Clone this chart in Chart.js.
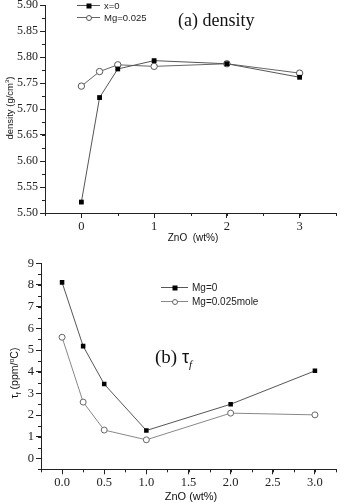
<!DOCTYPE html>
<html><head><meta charset="utf-8">
<script src="https://cdn.jsdelivr.net/npm/chart.js@4/dist/chart.umd.min.js"></script>
<style>
html,body{margin:0;padding:0;background:#fff;}
body{width:341px;height:503px;position:relative;overflow:hidden;}
canvas{position:absolute;left:0;}
.t{position:absolute;white-space:nowrap;color:#111;line-height:1;}
.sans{font-family:"Liberation Sans",Arial,sans-serif;}
.serif{font-family:"Liberation Serif","Times New Roman",serif;}
.rot{transform:translate(-50%,-50%) rotate(-90deg);}
.ctr{transform:translate(-50%,-50%);}
.leg{position:absolute;display:flex;align-items:center;font-family:"Liberation Sans",Arial,sans-serif;color:#222;}
.lline{position:relative;height:1px;margin-right:4px;}
.lmark{position:absolute;left:50%;top:50%;transform:translate(-50%,-50%);box-sizing:border-box;}
</style></head>
<body>
<canvas id="c1" width="341" height="250" style="top:0"></canvas>
<canvas id="c2" width="341" height="253" style="top:250px"></canvas>

<div class="t serif" style="left:178px;top:11px;font-size:18px;">(a) density</div>
<div class="t sans ctr" style="left:193px;top:238px;font-size:10px;">ZnO&nbsp;&nbsp;(wt%)</div>
<div class="t sans rot" style="left:9px;top:108px;font-size:9.5px;">density (g/cm<sup style="font-size:6px">3</sup>)</div>

<div class="t serif" style="left:155px;top:347px;font-size:19px;">(b) <span class="sans" style="font-size:18px">τ</span><sub style="font-size:11px;font-style:italic">f</sub></div>
<div class="t sans ctr" style="left:191px;top:496px;font-size:11px;">ZnO (wt%)</div>
<div class="t sans rot" style="left:15px;top:373px;font-size:10.5px;">τ<sub style="font-size:7px">f</sub> (ppm/<sup style="font-size:7px">o</sup>C)</div>

<div id="leg1"></div>
<div id="leg2"></div>

<script>
// ---- data ----
const densX0 = [0, 0.25, 0.5, 1, 2, 3];
const densZnO = [5.521, 5.722, 5.777, 5.793, 5.787, 5.761];
const densMg = [5.744, 5.772, 5.785, 5.782, 5.787, 5.769];
const densLabels = ['x=0', 'Mg=0.025'];

const tauX = [0, 0.25, 0.5, 1, 2, 3];
const tauMg0 = [8.12, 5.18, 3.43, 1.29, 2.50, 4.04];
const tauMg025 = [5.59, 2.60, 1.31, 0.86, 2.09, 2.01];
const tauLabels = ['Mg=0', 'Mg=0.025mole'];

const xTicksTop = [0, 1, 2, 3];
const xTicksBot = [0, 0.5, 1, 1.5, 2, 2.5, 3];
const densYTicks = [5.50,5.55,5.60,5.65,5.70,5.75,5.80,5.85,5.90];
const tauYTicks = [0,1,2,3,4,5,6,7,8,9];

function pts(xs, ys){ return xs.map((x,i)=>({x:x, y:ys[i]})); }

const SERIF = 'Liberation Serif, Times New Roman, serif';

const minorTicks = {
  id:'minorTicks',
  afterDraw(chart){
    const ctx = chart.ctx;
    ctx.save();
    ctx.strokeStyle = '#222';
    ctx.lineWidth = 1;
    for (const id of ['x','y']){
      const s = chart.scales[id];
      const m = s.options.minorStep;
      if (!m) continue;
      const n = Math.round((s.max - s.min)/m);
      for (let i=0;i<=n;i++){
        const v = s.min + i*m;
        const p = Math.round(s.getPixelForValue(v)) + 0.5;
        ctx.beginPath();
        if (id==='x'){ ctx.moveTo(p, chart.chartArea.bottom); ctx.lineTo(p, chart.chartArea.bottom+3); }
        else { ctx.moveTo(chart.chartArea.left, p); ctx.lineTo(chart.chartArea.left-3, p); }
        ctx.stroke();
      }
    }
    ctx.restore();
  }
};

function fixScale(w, h){
  return function(scale){
    if (w!=null) scale.width = w;
    if (h!=null) scale.height = h;
    scale.paddingLeft = 0; scale.paddingRight = 0; scale.paddingTop = 0; scale.paddingBottom = 0;
  };
}

function makeChart(id, datasets, o){
  return new Chart(document.getElementById(id), {
    type:'line',
    data:{datasets:datasets},
    plugins:[minorTicks],
    options:{
      responsive:false, animation:false,
      layout:{padding:{top:o.top, right:0, left:0, bottom:0}},
      plugins:{legend:{display:false}, tooltip:{enabled:false}},
      scales:{
        x:{type:'linear', min:o.xmin, max:o.xmax, minorStep:o.xminor,
           afterBuildTicks:(s)=>{ s.ticks = o.xticks.map(v=>({value:v})); },
           afterFit:fixScale(null, o.xh),
           border:{display:true, color:'#222', width:1},
           grid:{display:true, drawOnChartArea:false, drawTicks:true, tickLength:5, tickColor:'#222'},
           ticks:{font:{family:SERIF, size:o.xfs}, color:'#222', padding:1, maxRotation:0, autoSkip:false,
                  callback:(v)=>o.xfmt(v)}},
        y:{type:'linear', min:o.ymin, max:o.ymax, minorStep:o.yminor,
           afterBuildTicks:(s)=>{ s.ticks = o.yticks.map(v=>({value:v})); },
           afterFit:fixScale(o.yw, null),
           border:{display:true, color:'#222', width:1},
           grid:{display:true, drawOnChartArea:false, drawTicks:true, tickLength:5, tickColor:'#222'},
           ticks:{font:{family:SERIF, size:o.yfs}, color:'#222', padding:2, autoSkip:false,
                  callback:(v)=>o.yfmt(v)}}
      }
    }
  });
}

const ds1 = [
  {label:densLabels[0], data:pts(densX0, densZnO), borderColor:'#555', borderWidth:1,
   pointStyle:'rect', pointRadius:3.4, pointBackgroundColor:'#000', pointBorderColor:'#000', pointBorderWidth:0},
  {label:densLabels[1], data:pts(densX0, densMg), borderColor:'#666', borderWidth:1,
   pointStyle:'circle', pointRadius:3.2, pointBackgroundColor:'#fff', pointBorderColor:'#555', pointBorderWidth:1}
];
makeChart('c1', ds1, {top:4, xmin:-0.5, xmax:3.5, xminor:0.5, xticks:xTicksTop, xh:37, xfs:12.5,
  xfmt:(v)=>String(v), ymin:5.50, ymax:5.90, yminor:0.025, yticks:densYTicks, yw:45, yfs:12,
  yfmt:(v)=>v.toFixed(2)});

const ds2 = [
  {label:tauLabels[0], data:pts(tauX, tauMg0), borderColor:'#555', borderWidth:1,
   pointStyle:'rect', pointRadius:3.2, pointBackgroundColor:'#000', pointBorderColor:'#000', pointBorderWidth:0},
  {label:tauLabels[1], data:pts(tauX, tauMg025), borderColor:'#888', borderWidth:1,
   pointStyle:'circle', pointRadius:3, pointBackgroundColor:'#fff', pointBorderColor:'#666', pointBorderWidth:1}
];
makeChart('c2', ds2, {top:13.3, xmin:-0.25, xmax:3.25, xminor:0.25, xticks:xTicksBot, xh:33.7, xfs:12.5,
  xfmt:(v)=>v.toFixed(1), ymin:-0.5, ymax:9, yminor:0.5, yticks:tauYTicks, yw:41, yfs:12.5,
  yfmt:(v)=>String(v)});

// ---- legends built from dataset labels/styles ----
function legend(elId, dsets, left, top, rowH, lineW, fs){
  const el = document.getElementById(elId);
  dsets.forEach((d,i)=>{
    const row = document.createElement('div');
    row.className='leg';
    row.style.left=left+'px'; row.style.top=(top+i*rowH)+'px'; row.style.fontSize=fs+'px';
    const ln = document.createElement('div');
    ln.className='lline'; ln.style.width=lineW+'px'; ln.style.background=d.borderColor;
    const mk = document.createElement('div');
    mk.className='lmark';
    if (d.pointStyle==='rect'){ mk.style.width='5px'; mk.style.height='5px'; mk.style.background='#000'; }
    else { mk.style.width='6px'; mk.style.height='6px'; mk.style.borderRadius='50%'; mk.style.background='#fff'; mk.style.border='1px solid '+d.pointBorderColor; }
    ln.appendChild(mk);
    const tx = document.createElement('span'); tx.textContent=d.label;
    row.appendChild(ln); row.appendChild(tx);
    el.appendChild(row);
  });
}
legend('leg1', ds1, 77, 0, 12, 23, 9.5);
legend('leg2', ds2, 161, 282, 14, 27, 10);
</script>
</body></html>
